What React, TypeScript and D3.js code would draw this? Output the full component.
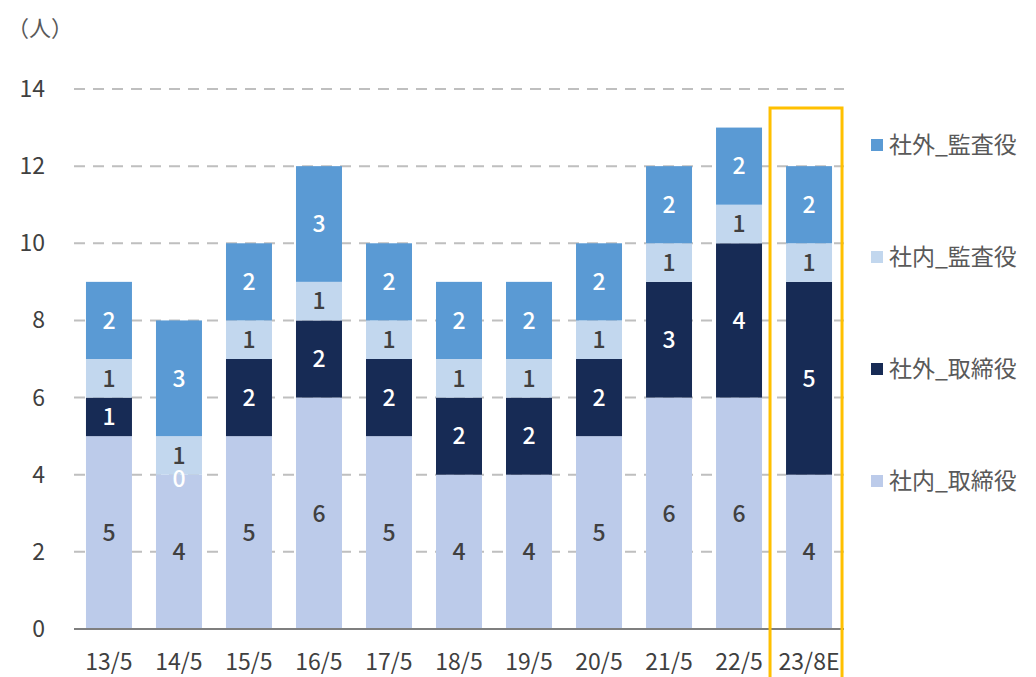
import React from "react";
import * as d3 from "d3";

const categories = ["13/5", "14/5", "15/5", "16/5", "17/5", "18/5", "19/5", "20/5", "21/5", "22/5", "23/8E"];
const seriesNames = ["社内_取締役", "社外_取締役", "社内_監査役", "社外_監査役"];
const insideDirectors = [5, 4, 5, 6, 5, 4, 4, 5, 6, 6, 4];
const outsideDirectors = [1, 0, 2, 2, 2, 2, 2, 2, 3, 4, 5];
const insideAuditors = [1, 1, 1, 1, 1, 1, 1, 1, 1, 1, 1];
const outsideAuditors = [2, 3, 2, 3, 2, 2, 2, 2, 2, 2, 2];
const yTicks = [0, 2, 4, 6, 8, 10, 12, 14];
const highlightCategory = "23/8E";

const colors = ["#BCCBEA", "#172B55", "#C2D7EE", "#5A9AD4"];
const labelColors = ["#404040", "#ffffff", "#404040", "#ffffff"];

const W = 1036;
const H = 677;
const FONT = "'Noto Sans CJK JP', 'Noto Sans', sans-serif";

export default function App() {
  const values = [insideDirectors, outsideDirectors, insideAuditors, outsideAuditors];
  const rows = categories.map((c, i) => {
    const r: any = { cat: c };
    seriesNames.forEach((s, k) => (r[s] = values[k][i]));
    return r;
  });
  const stacked = d3.stack<any>().keys(seriesNames)(rows);

  const x = d3.scaleBand<string>().domain(categories).range([74, 844]).paddingInner(0.343).paddingOuter(0.171);
  const y = d3.scaleLinear().domain([0, 14]).range([629, 89]);

  const hx0 = x(highlightCategory)!;

  const legendOrder = [3, 2, 1, 0];
  const legendY = [145, 257, 369, 481];

  // small nudge for zero-height segment label so it does not sit on its neighbour
  const labelNudge = (k: number, d: number[]) => {
    const v = d[1] - d[0];
    if (v === 0) return 4;
    return 0;
  };

  return (
    <svg width={W} height={H} style={{ position: "absolute", left: 0, top: 0, background: "#fff" }} fontFamily={FONT}>
      <text x={7} y={36} fontSize={22} fill="#595959">（人）</text>
      {yTicks.filter((t) => t > 0).map((t) => (
        <line key={t} x1={74} x2={844} y1={y(t)} y2={y(t)} stroke="#BFBFBF" strokeWidth={2} strokeDasharray="11 8" />
      ))}
      {yTicks.map((t) => (
        <text key={t} x={45} y={y(t)} dy="0.35em" textAnchor="end" fontSize={23} fill="#404040">{t}</text>
      ))}
      {stacked.map((layer, k) => (
        <g key={layer.key}>
          {layer.map((d, i) => (
            <rect key={i} x={x(categories[i])} y={y(d[1])} width={x.bandwidth()} height={y(d[0]) - y(d[1])} fill={colors[k]} />
          ))}
        </g>
      ))}
      {stacked.map((layer, k) => (
        <g key={"l" + layer.key}>
          {layer.map((d, i) => (
            <text key={i} x={x(categories[i])! + x.bandwidth() / 2} y={y((d[0] + d[1]) / 2) + labelNudge(k, d as any)} dy="0.36em" textAnchor="middle" fontSize={23} fontWeight={500} fill={labelColors[k]}>
              {d[1] - d[0]}
            </text>
          ))}
        </g>
      ))}
      <line x1={74} x2={844} y1={y(0)} y2={y(0)} stroke="#7F7F7F" strokeWidth={2} />
      {categories.map((c) => (
        <text key={c} x={x(c)! + x.bandwidth() / 2} y={662} dy="0.35em" textAnchor="middle" fontSize={23} fill="#404040">{c}</text>
      ))}
      <rect x={hx0 - 16} y={108} width={x.bandwidth() + 26} height={H} fill="none" stroke="#FFC000" strokeWidth={3} />
      {legendOrder.map((k, j) => (
        <g key={k}>
          <rect x={871} y={legendY[j] - 6} width={12} height={12} fill={colors[k]} />
          <text x={889} y={legendY[j]} dy="0.35em" fontSize={23} fill="#595959">{seriesNames[k]}</text>
        </g>
      ))}
    </svg>
  );
}
